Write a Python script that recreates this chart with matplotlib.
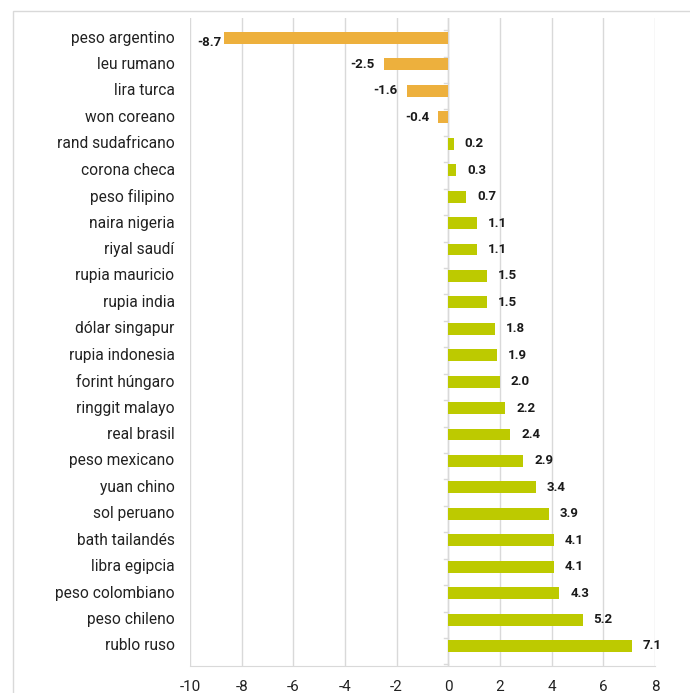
import matplotlib
matplotlib.use("Agg")
import matplotlib.pyplot as plt
from matplotlib.patches import Rectangle

monedas = ["peso argentino", "leu rumano", "lira turca", "won coreano",
           "rand sudafricano", "corona checa", "peso filipino", "naira nigeria",
           "riyal saudí", "rupia mauricio", "rupia india", "dólar singapur",
           "rupia indonesia", "forint húngaro", "ringgit malayo", "real brasil",
           "peso mexicano", "yuan chino", "sol peruano", "bath tailandés",
           "libra egipcia", "peso colombiano", "peso chileno", "rublo ruso"]
valores = [-8.7, -2.5, -1.6, -0.4, 0.2, 0.3, 0.7, 1.1, 1.1, 1.5, 1.5, 1.8,
           1.9, 2.0, 2.2, 2.4, 2.9, 3.4, 3.9, 4.1, 4.1, 4.3, 5.2, 7.1]
xticks = [-10, -8, -6, -4, -2, 0, 2, 4, 6, 8]

naranja = "#EDB03D"
verde = "#BDCA00"
gris = "#D9D9D9"

plt.rcParams['font.family'] = ['Roboto', 'DejaVu Sans']

fig = plt.figure(figsize=(6.9, 6.93), dpi=100)
fig.patches.append(Rectangle((13/690, -0.1), 1.2, 1 - 11/693 + 0.1,
                             transform=fig.transFigure, fill=False,
                             edgecolor=gris, linewidth=1))
ax = fig.add_axes([190/690, 27/693, 465/690, 648/693])

pos = list(range(len(monedas)))
colores = [naranja if v < 0 else verde for v in valores]
ax.barh(pos, valores, height=0.45, color=colores, zorder=3)

for p, v in zip(pos, valores):
    if v < -8:
        # sin sitio: la etiqueta queda pegada a la barra
        ax.text(v - 0.1, p + 0.18, f"{v:.1f}", ha="right", va="center",
                fontsize=9.5, fontweight="bold", color="#1a1a1a", zorder=4)
    elif v < 0:
        ax.text(v - 0.35, p, f"{v:.1f}", ha="right", va="center",
                fontsize=9.5, fontweight="bold", color="#1a1a1a", zorder=4)
    else:
        ax.text(v + 0.42, p, f"{v:.1f}", ha="left", va="center",
                fontsize=9.5, fontweight="bold", color="#1a1a1a", zorder=4)

ax.set_xlim(-10, 8)
ax.set_ylim(23.757, -0.757)
ax.set_xticks(xticks)
ax.set_xticklabels([str(t) for t in xticks], fontsize=11, color="#222222")
ax.grid(axis="x", color=gris, linewidth=1, zorder=0)

for s in ["top", "right", "left"]:
    ax.spines[s].set_visible(False)
ax.spines["bottom"].set_color(gris)
ax.tick_params(axis="x", length=0, pad=10)

# eje en cero, con las monedas escritas a la izquierda del área
ax.set_yticks(pos)
ax.set_yticklabels([])
ax.tick_params(axis="y", length=0)
ax.axvline(0, color=gris, linewidth=1, zorder=2)
for p in range(len(monedas) + 1):
    ax.plot([-0.15, 0], [p - 0.3, p - 0.3], color=gris, linewidth=1,
            zorder=2, clip_on=False)
for p, m in zip(pos, monedas):
    ax.text(-10.6, p, m, ha="right", va="center", fontsize=11.2,
            color="#222222")

fig.savefig("out.png", dpi=100)
